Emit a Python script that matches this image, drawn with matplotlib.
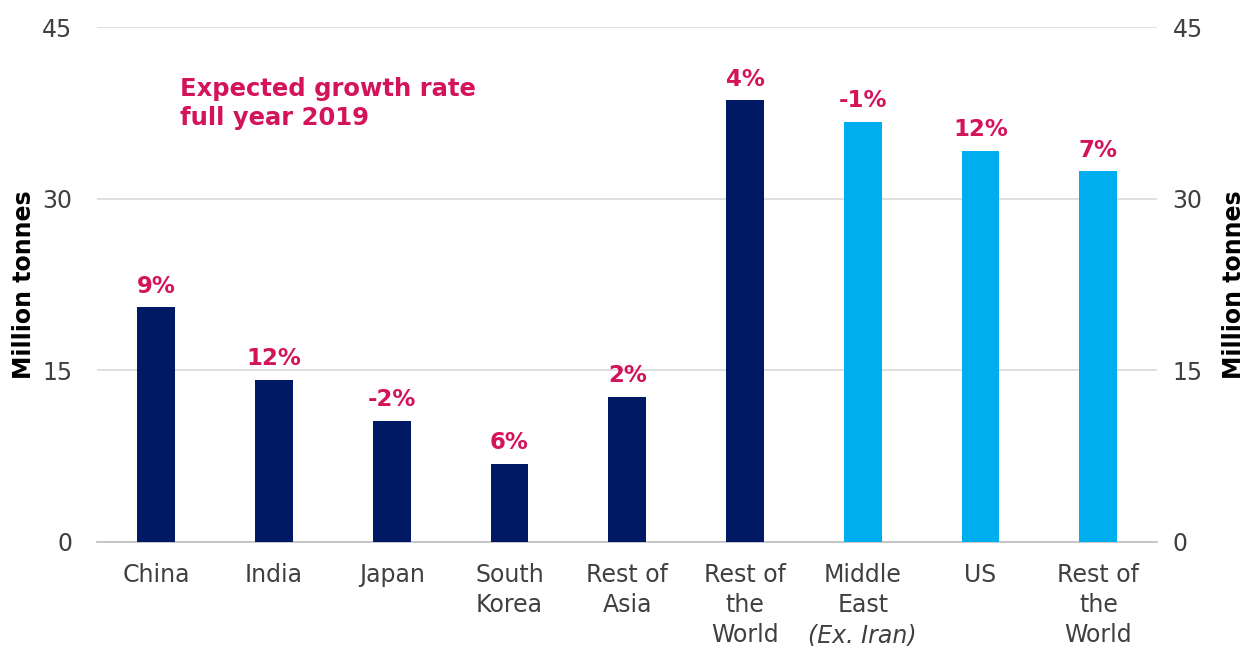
import numpy as np
import matplotlib
matplotlib.use("Agg")
import matplotlib.pyplot as plt

# data
categories = ["China", "India", "Japan", "South\nKorea", "Rest of\nAsia",
              "Rest of\nthe\nWorld", "Middle\nEast", "US", "Rest of\nthe\nWorld"]
volumes = [20.5, 14.2, 10.6, 6.8, 12.7, 38.6, 36.7, 34.2, 32.4]
growth = ["9%", "12%", "-2%", "6%", "2%", "4%", "-1%", "12%", "7%"]
n_dark = 6  # first six bars are navy, the rest light blue
yticks = [0, 15, 30, 45]

navy = "#001965"
light = "#00AEEF"
pink = "#D4145A"
grey_txt = "#404040"

plt.rcParams["font.family"] = ["DejaVu Sans"]

fig = plt.figure(figsize=(12.47, 6.46), dpi=100)
ax = fig.add_axes([0.078, 0.161, 0.850, 0.797])

x = np.arange(len(categories))
colors = [navy if i < n_dark else light for i in range(len(categories))]
ax.bar(x, volumes, width=0.32, color=colors, zorder=3)

for xi, v, g in zip(x, volumes, growth):
    ax.annotate(g, (xi, v), xytext=(0, 7), textcoords="offset points",
                ha="center", va="bottom", color=pink, fontsize=16.5,
                fontweight="bold")

ax.text(0.2, 38.3, "Expected growth rate\nfull year 2019", color=pink,
        fontsize=17.5, fontweight="bold", ha="left", va="center",
        linespacing=1.25)

ax.set_xlim(-0.5, len(categories) - 0.5)
ax.set_ylim(0, 45)
ax.set_yticks(yticks)
ax.set_yticklabels([str(t) for t in yticks], color=grey_txt, fontsize=17)
ax.grid(axis="y", color="#D9D9D9", linewidth=1.2, zorder=0)
ax.set_xticks(x)
ax.set_xticklabels(categories, fontsize=17, color=grey_txt, linespacing=1.33)
ax.tick_params(axis="both", length=0)
ax.tick_params(axis="x", pad=15)
ax.tick_params(axis="y", pad=18)

# italic sub-line under Middle East
ax.annotate("(Ex. Iran)", (6, 0), xycoords=("data", "data"),
            xytext=(0, -67), textcoords="offset points", ha="center",
            va="center", fontsize=17, style="italic", color=grey_txt)

for s in ["top", "left", "right"]:
    ax.spines[s].set_visible(False)
ax.spines["bottom"].set_color("#BFBFBF")
ax.spines["bottom"].set_linewidth(1.2)

ax.set_ylabel("Million tonnes", fontsize=17, fontweight="bold", labelpad=4)

ax2 = ax.twinx()
ax2.set_ylim(0, 45)
ax2.set_yticks(yticks)
ax2.set_yticklabels([str(t) for t in yticks], color=grey_txt, fontsize=17)
ax2.tick_params(axis="y", length=0, pad=11)
for s in ["top", "left", "right", "bottom"]:
    ax2.spines[s].set_visible(False)
ax2.set_ylabel("Million tonnes", fontsize=17, fontweight="bold",
               rotation=90, labelpad=14)

plt.savefig("out.png", dpi=100)
